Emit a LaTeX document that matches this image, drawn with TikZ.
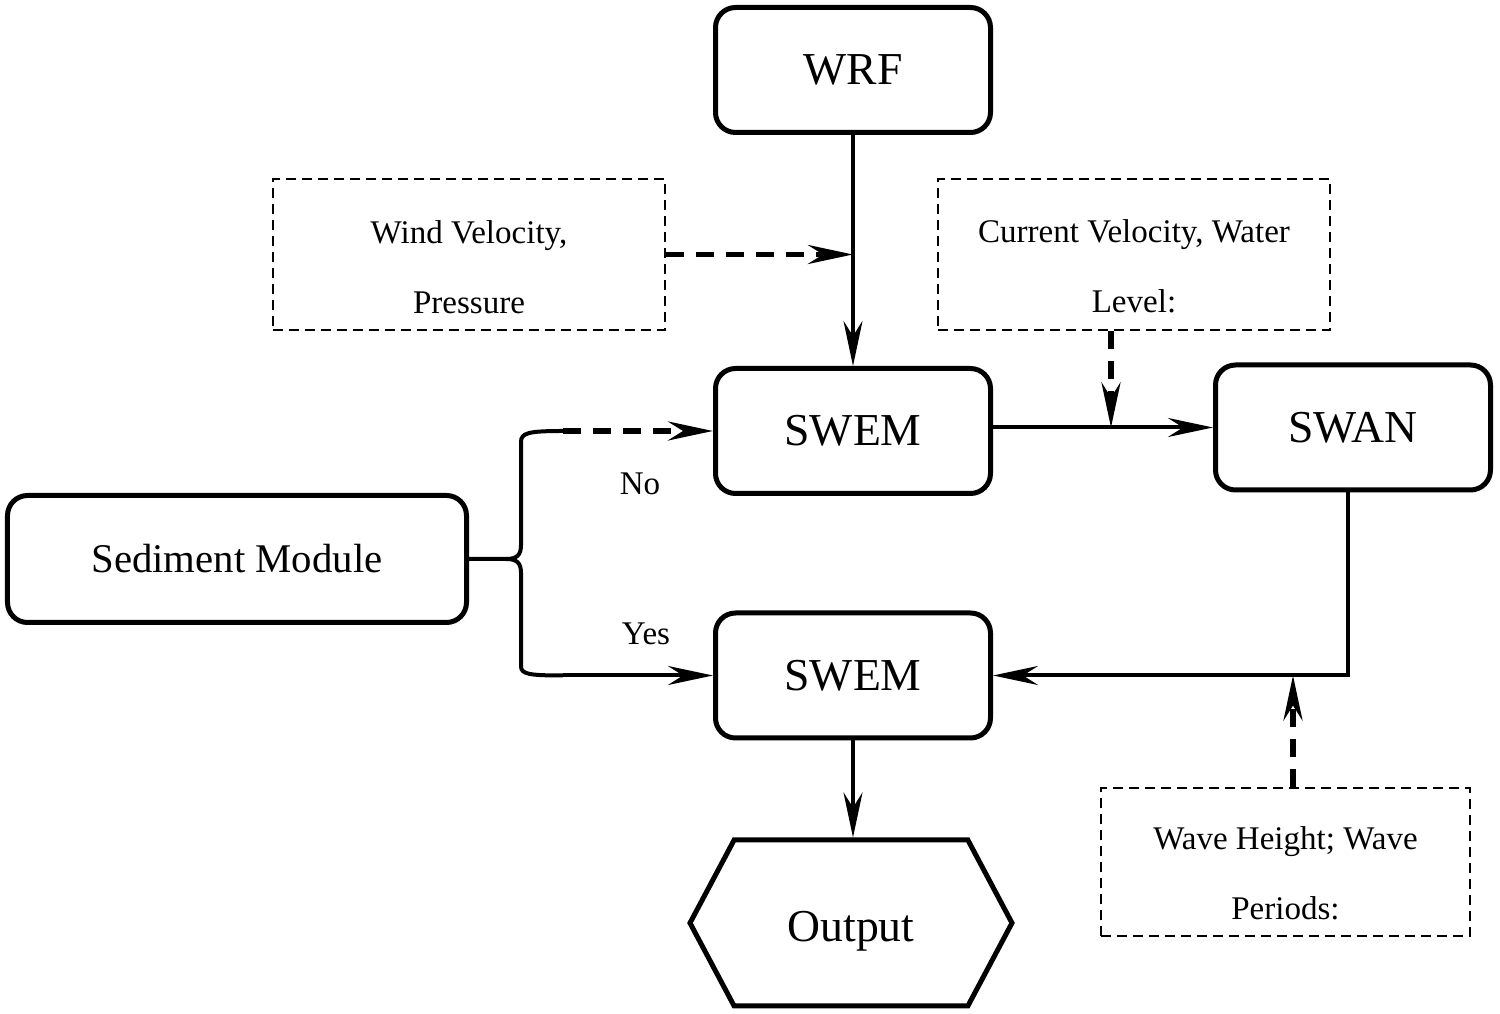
\documentclass[tikz,border=0pt]{standalone}
\usepackage{fontspec}
\setmainfont{Liberation Serif}
\usetikzlibrary{arrows.meta, shapes.symbols}
\tikzset{
>={Stealth[length=4.5mm, width=1.9mm, inset=1.5mm]},
  modul/.style={
    rectangle,
    rounded corners=2mm,
    draw=black, line width=0.5mm,
    minimum width=2.75cm,
    minimum height=1.25cm,
    font=\fontsize{13}{15}\selectfont},
  outbox/.style={
    signal, signal to=west and east,
    signal pointer angle=124,
    draw=black, line width=0.5mm,
    minimum width=3.22cm,
    minimum height=1.66cm,
    text height=3.7mm, text depth=0mm,
    font=\fontsize{13}{15}\selectfont},
  databox/.style={
    rectangle,
    draw=black, line width=0.2mm,
    dash pattern=on 1mm off 0.6mm,
    minimum width=3.92cm,
    minimum height=1.51cm},
  datatext/.style={align=center, font=\fontsize{9.4}{19.9}\selectfont},
  choice/.style={font=\fontsize{9.4}{11}\selectfont},
  line/.style={draw, line width=0.4mm, ->},
  dline/.style={draw, line width=0.55mm, dash pattern=on 1.8mm off 1.2mm, ->},
  brace/.style={draw, line width=0.4mm},
}
\begin{document}
\begin{tikzpicture}
\useasboundingbox (0,0) rectangle (15,-10.14);
% models
\node[modul] (WRF) at (8.53,-0.70) {WRF};
\node[modul] (SWEMTop) at (8.53,-4.31) {SWEM};
\node[modul] (SWAN) at (13.53,-4.275) {SWAN};
\node[modul] (SWEMBottom) at (8.53,-6.755) {SWEM};
\node[modul, minimum width=4.59cm, minimum height=1.27cm, font=\fontsize{11.6}{14}\selectfont] (Sediment) at (2.37,-5.59) {Sediment Module};
\node[outbox] (Output) at (8.51,-9.23) {Output};
% exchanged data
\node[databox] (WindBox) at (4.69,-2.545) {};
\node[datatext, yshift=-1.3mm] (WindText) at (WindBox) {Wind Velocity,\\Pressure};
\node[databox] (CurrentBox) at (11.34,-2.545) {};
\node[datatext, yshift=-1.22mm] (CurrentText) at (CurrentBox) {Current Velocity, Water\\Level:};
\node[databox, minimum width=3.69cm, minimum height=1.48cm] (WaveBox) at (12.855,-8.62) {};
\node[datatext, yshift=-1.15mm] (WaveText) at (WaveBox) {Wave Height; Wave\\Periods:};
\node[choice] (NoLabel) at (6.40,-4.84) {No};
\node[choice] (YesLabel) at (6.46,-6.34) {Yes};
% connectors
\coordinate (WindIn) at (WRF.south |- WindBox.east);
\coordinate (CurrentIn) at (11.11,-4.275);
\coordinate (WaveIn) at (12.93,-6.755);
\coordinate (NoStart) at (5.63,-4.31);
\coordinate (YesStart) at (5.63,-6.755);
\draw[line] (WRF) -- (SWEMTop);
\draw[dline] (WindBox) -- (WindIn);
\draw[line] (SWEMTop.east |- SWAN.west) -- (SWAN.west);
\draw[dline] (CurrentIn |- CurrentBox.south) -- (CurrentIn);
\draw[line] ([xshift=-0.5mm]SWAN.south) |- (SWEMBottom.east);
\draw[dline] (WaveIn |- WaveBox.north) -- (WaveIn);
\draw[line] (SWEMBottom) -- (SWEMBottom |- Output.north);
\draw[brace] (Sediment.east) -- (5.06,-5.59) .. controls (5.17,-5.59) and (5.21,-5.55) .. (5.21,-5.45) -- (5.21,-4.42) .. controls (5.21,-4.33) and (5.28,-4.31) .. (NoStart);
\draw[brace] (5.06,-5.59) .. controls (5.17,-5.59) and (5.21,-5.63) .. (5.21,-5.73) -- (5.21,-6.66) .. controls (5.21,-6.74) and (5.28,-6.755) .. (YesStart);
\draw[dline] (NoStart) -- (SWEMTop.west);
\draw[line] (YesStart) -- (SWEMBottom.west);
\end{tikzpicture}
\end{document}
